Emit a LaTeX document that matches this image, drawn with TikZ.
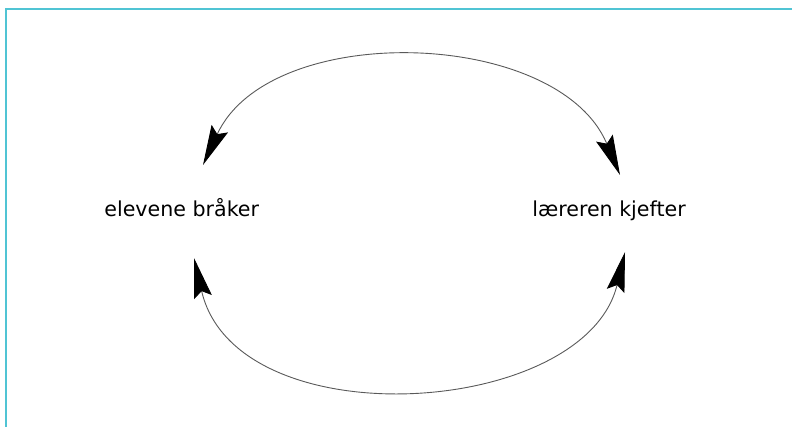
\documentclass[tikz,border=0pt]{standalone}
\usepackage{fontspec}
\setmainfont{DejaVu Sans}
\usetikzlibrary{arrows.meta}
\definecolor{framecyan}{RGB}{80,196,212}

\begin{document}
\begin{tikzpicture}[x = 0.5pt, y = -0.5pt,
	>={Stealth[length=20pt, width=9pt, inset=3pt, color=black]},
	word/.style = {anchor = base west, inner sep = 0pt, font = \fontsize{10.3}{12}\selectfont},
	circuit/.style = {<->, draw = black!65, line width = 0.45pt}]
	\useasboundingbox (0,0) rectangle (792,427);
	\draw[framecyan, line width = 1pt] (5.5,427)--(5.5,9.5)--(792,9.5);
	\node[word] (elev) at (104,217) {elevene bråker};
	\node[word] (laer) at (532,217) {læreren kjefter};
	\coordinate (elevtop) at (203,165);
	\coordinate (laertop) at (620,175);
	\coordinate (elevbot) at (194,258);
	\coordinate (laerbot) at (625,252);
	\draw[circuit] (elevtop) .. controls (270,20) and (558,28) .. (laertop);
	\draw[circuit] (elevbot) .. controls (236,440) and (585,418) .. (laerbot);
\end{tikzpicture}
\end{document}
